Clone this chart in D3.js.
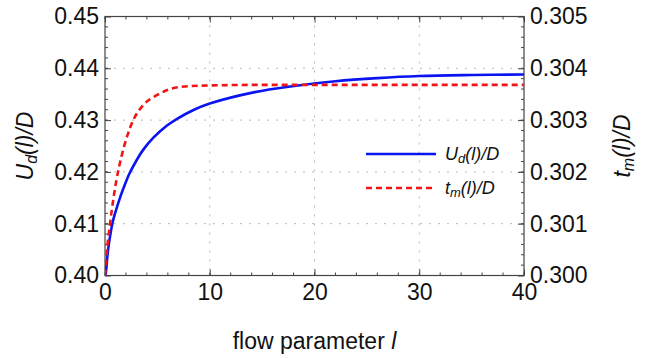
<!DOCTYPE html>
<html>
<head>
<meta charset="utf-8">
<script src="https://cdn.jsdelivr.net/npm/d3@7"></script>
<style>
  body { margin: 0; background: #fff; }
  text { font-family: "Liberation Sans", Arial, sans-serif; fill: #111; }
</style>
</head>
<body>
<svg id="chart" width="654" height="358"></svg>
<script>
// flow parameter l and the two curves
const lBlue    = [0, 0.07, 0.22, 0.38, 0.7, 0.96, 1.43, 1.91, 2.29, 3.03, 3.66, 4.62, 5.89, 6.84, 8.5, 10, 14.3, 17.7, 22, 26, 30, 35, 40]
const udValues = [0.4000, 0.4004, 0.4036, 0.4062, 0.4100, 0.4120, 0.4150, 0.4176, 0.4195, 0.4223, 0.4243, 0.4266, 0.4289, 0.4302, 0.4320, 0.4332, 0.4354, 0.4365, 0.4375, 0.4381, 0.4385, 0.4387, 0.4388]
const lRed     = [0, 0.22, 0.48, 0.8, 1.1, 1.6, 2.07, 2.7, 3.66, 4.94, 7.2, 10, 15, 20, 30, 40]
const tmValues = [0.30000, 0.30055, 0.30100, 0.30148, 0.30185, 0.30232, 0.30266, 0.30300, 0.30329, 0.30348, 0.30364, 0.30367, 0.30368, 0.30368, 0.30368, 0.30368]

const xTicks = [0, 10, 20, 30, 40]
const yLeftTicks = [0.40, 0.41, 0.42, 0.43, 0.44, 0.45]
const yRightTicks = [0.300, 0.301, 0.302, 0.303, 0.304, 0.305]

const svg = d3.select('#chart')
const pLeft = 105, pRight = 524, pTop = 16.5, pBottom = 275.5

const x = d3.scaleLinear().domain([0, 40]).range([pLeft, pRight])
const yL = d3.scaleLinear().domain([0.40, 0.45]).range([pBottom, pTop])
const yR = d3.scaleLinear().domain([0.300, 0.305]).range([pBottom, pTop])

// grid
const grid = svg.append('g')
    .attr('stroke', '#b8b8b8')
    .attr('stroke-width', 1)
    .attr('stroke-dasharray', '2,7')
grid.selectAll('.gx').data(xTicks.slice(1, -1)).enter().append('line')
    .attr('x1', d => x(d)).attr('x2', d => x(d))
    .attr('y1', pTop).attr('y2', pBottom)
grid.selectAll('.gy').data(yLeftTicks.slice(1, -1)).enter().append('line')
    .attr('x1', pLeft).attr('x2', pRight)
    .attr('y1', d => yL(d)).attr('y2', d => yL(d))

// axes with inward ticks
const frameColor = '#444'
function styleAxis(g) {
    g.select('.domain').remove()
    g.selectAll('line').attr('stroke', frameColor).attr('stroke-width', 1)
    g.selectAll('text').style('font-size', '23px').attr('fill', '#111')
}

const xMinor = d3.range(0, 40.01, 2)
const yLMinor = d3.range(0, 26).map(i => 0.40 + i * 0.002)
const yRMinor = d3.range(0, 26).map(i => 0.300 + i * 0.0002)

// minor ticks
function minor(sel, vals, fn) {
    sel.selectAll(null).data(vals).enter().append('line')
        .attr('stroke', frameColor).attr('stroke-width', 1)
        .each(function (d) { fn(d3.select(this), d) })
}
const mg = svg.append('g')
minor(mg, xMinor, (s, d) => s.attr('x1', x(d)).attr('x2', x(d)).attr('y1', pBottom).attr('y2', pBottom - 3))
minor(mg, xMinor, (s, d) => s.attr('x1', x(d)).attr('x2', x(d)).attr('y1', pTop).attr('y2', pTop + 3))
minor(mg, yLMinor, (s, d) => s.attr('x1', pLeft).attr('x2', pLeft + 3).attr('y1', yL(d)).attr('y2', yL(d)))
minor(mg, yRMinor, (s, d) => s.attr('x1', pRight).attr('x2', pRight - 3).attr('y1', yR(d)).attr('y2', yR(d)))

svg.append('g').attr('transform', `translate(0,${pBottom})`)
    .call(d3.axisBottom(x).tickValues(xTicks).tickSizeInner(-6).tickSizeOuter(0).tickPadding(8).tickFormat(d3.format('d')))
    .call(styleAxis)
svg.append('g').attr('transform', `translate(0,${pTop})`)
    .call(d3.axisTop(x).tickValues(xTicks).tickSizeInner(-6).tickSizeOuter(0).tickFormat(''))
    .call(styleAxis)
svg.append('g').attr('transform', `translate(${pLeft},0)`)
    .call(d3.axisLeft(yL).tickValues(yLeftTicks).tickSizeInner(-6).tickSizeOuter(0).tickPadding(6).tickFormat(d3.format('.2f')))
    .call(styleAxis)
svg.append('g').attr('transform', `translate(${pRight},0)`)
    .call(d3.axisRight(yR).tickValues(yRightTicks).tickSizeInner(-6).tickSizeOuter(0).tickPadding(6).tickFormat(d3.format('.3f')))
    .call(styleAxis)

// frame
svg.append('rect')
    .attr('x', pLeft).attr('y', pTop)
    .attr('width', pRight - pLeft).attr('height', pBottom - pTop)
    .attr('fill', 'none').attr('stroke', frameColor).attr('stroke-width', 1.2)

// curves
const clip = svg.append('clipPath').attr('id', 'clip')
clip.append('rect').attr('x', pLeft).attr('y', pTop - 2).attr('width', pRight - pLeft).attr('height', pBottom - pTop + 4)

const ud = lBlue.map((l, i) => [l, udValues[i]])
const tm = lRed.map((l, i) => [l, tmValues[i]])

const lineL = d3.line().x(d => x(d[0])).y(d => yL(d[1])).curve(d3.curveCatmullRom.alpha(0.5))
const lineR = d3.line().x(d => x(d[0])).y(d => yR(d[1])).curve(d3.curveMonotoneX)

svg.append('path')
    .attr('d', lineL(ud))
    .attr('clip-path', 'url(#clip)')
    .style('fill', 'none')
    .style('stroke', '#0a14f0')
    .attr('stroke-width', 2.6)

svg.append('path')
    .attr('d', lineR(tm))
    .attr('clip-path', 'url(#clip)')
    .style('fill', 'none')
    .style('stroke', '#f01414')
    .attr('stroke-width', 2.6)
    .attr('stroke-dasharray', '6,4')

// legend
const legend = svg.append('g')
const legendItems = [
    { sym: 'U', sub: 'd', color: '#0a14f0', dash: null, y: 154 },
    { sym: 't', sub: 'm', color: '#f01414', dash: '6,4', y: 188 }
]
legendItems.forEach(function (item) {
    legend.append('line')
        .attr('x1', 366).attr('x2', 436)
        .attr('y1', item.y).attr('y2', item.y)
        .attr('stroke', item.color).attr('stroke-width', 2.6)
        .attr('stroke-dasharray', item.dash)
    const t = legend.append('text')
        .attr('x', 445).attr('y', item.y + 6)
        .style('font-size', '18px').style('font-style', 'italic')
    t.append('tspan').text(item.sym)
    t.append('tspan').text(item.sub).style('font-size', '13px').attr('dy', 3)
    t.append('tspan').text('(l)/D').attr('dy', -3)
})

// axis titles
svg.append('text')
    .attr('x', (pLeft + pRight) / 2).attr('y', 349)
    .attr('text-anchor', 'middle')
    .style('font-size', '23px')
    .text('flow parameter ')
    .append('tspan').style('font-style', 'italic').text('l')

function yTitle(xPos, sym, sub) {
    const t = svg.append('text')
        .attr('transform', `translate(${xPos},${(pTop + pBottom) / 2}) rotate(-90)`)
        .attr('text-anchor', 'middle')
        .style('font-size', '23px').style('font-style', 'italic')
    t.append('tspan').text(sym)
    t.append('tspan').text(sub).style('font-size', '16px').attr('dy', 4)
    t.append('tspan').text('(l)/D').attr('dy', -4)
}
yTitle(33, 'U', 'd')
yTitle(630, 't', 'm')
</script>
</body>
</html>
